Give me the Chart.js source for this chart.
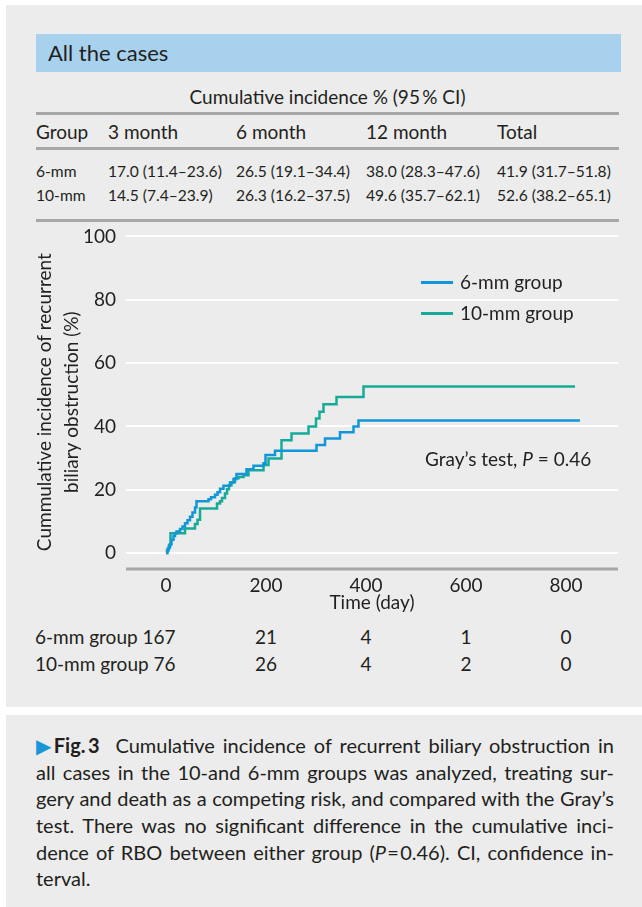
<!DOCTYPE html>
<html>
<head>
<meta charset="utf-8">
<script src="https://cdn.jsdelivr.net/npm/chart.js@4.4.0/dist/chart.umd.min.js"></script>
<style>
  html, body { margin: 0; padding: 0; background: #fff; }
  body { width: 642px; height: 907px; position: relative; overflow: hidden;
         font-family: Lato, "Open Sans", sans-serif; color: #231f20; }
  .panel { position: absolute; left: 6px; width: 636px; background: #ebeceb; }
  .abs { position: absolute; white-space: nowrap; }
  .rule { position: absolute; left: 36px; width: 583px; height: 3px; background: #a5a7a9; }
  .cap { position: absolute; left: 36px; width: 578px; font-size: 20px; line-height: 26px;
         text-align: justify; text-align-last: justify; white-space: nowrap; }
  #chartBox { position: absolute; left: 0; top: 215px; }
</style>
</head>
<body>
<div class="panel" style="top:5px;height:702px"></div>
<div class="panel" style="top:715px;height:192px"></div>
<div class="abs" style="left:36px;top:34px;width:585px;height:38px;background:#a8d1ee"></div>
<div class="abs" style="left:48px;top:38px;font-size:22px;line-height:30px">All the cases</div>
<div class="abs" style="left:36px;width:583px;top:85px;font-size:19px;line-height:24px;text-align:center">Cumulative incidence % (95&#8201;% CI)</div>
<div class="rule" style="top:112px"></div>
<div class="rule" style="top:147px"></div>
<div class="rule" style="top:219px"></div>
<div id="tbl"></div>

<div id="chartBox"><canvas id="canvas" width="642" height="407"></canvas></div>
<div id="legend"></div>
<div class="abs" style="left:425px;top:447px;font-size:19px;line-height:24px">Gray’s test, <i>P</i> = 0.46</div>
<div id="risk"></div>

<div class="cap" style="top:732px"><span style="color:#1a96d6">&#9654;</span><b>Fig.&#8201;3</b>&nbsp; Cumulative incidence of recurrent biliary obstruction in</div>
<div class="cap" style="top:759px">all cases in the 10-and 6-mm groups was analyzed, treating sur-</div>
<div class="cap" style="top:785px">gery and death as a competing risk, and compared with the Gray’s</div>
<div class="cap" style="top:812px">test. There was no significant difference in the cumulative inci-</div>
<div class="cap" style="top:839px">dence of RBO between either group (<i>P</i>&#8202;=&#8202;0.46). CI, confidence in-</div>
<div class="cap" style="top:865px;text-align-last:left">terval.</div>

<script>
// table above the chart
const tableCols = ['Group', '3 month', '6 month', '12 month', 'Total'];
const table6 = ['6-mm', '17.0 (11.4–23.6)', '26.5 (19.1–34.4)', '38.0 (28.3–47.6)', '41.9 (31.7–51.8)'];
const table10 = ['10-mm', '14.5 (7.4–23.9)', '26.3 (16.2–37.5)', '49.6 (35.7–62.1)', '52.6 (38.2–65.1)'];

// cumulative incidence steps (day, %)
const days6 = [0, 2, 5, 8, 11, 15, 18, 21, 28, 33, 38, 43, 48, 53, 58, 61, 85, 90, 98, 103, 108, 115, 128, 135, 141, 161, 175, 195, 199, 218, 301, 318, 348, 375, 385, 828];
const pct6 = [0, 0.8, 1.8, 2.8, 4.2, 5.4, 6.2, 6.8, 7.6, 8.4, 9.4, 10.4, 11.5, 12.8, 14.4, 16.4, 17.0, 17.6, 18.4, 19.2, 20.3, 21.3, 22.3, 23.4, 25.0, 26.5, 27.6, 28.4, 31.0, 32.3, 34.1, 36.2, 38.2, 40.0, 41.9, 41.9];
const days10 = [0, 3, 6, 9, 38, 58, 63, 68, 102, 108, 112, 118, 122, 126, 131, 138, 145, 155, 165, 195, 205, 231, 251, 285, 300, 307, 315, 341, 395, 818];
const pct10 = [0, 1.3, 2.6, 6.3, 7.8, 9.2, 10.5, 14.1, 15.7, 16.4, 17.4, 18.8, 20.2, 21.4, 22.4, 23.6, 24.0, 24.6, 26.2, 27.8, 29.9, 35.6, 37.8, 40.0, 42.5, 44.6, 47.0, 49.3, 52.6, 52.6];

const seriesNames = ['6-mm group', '10-mm group'];
const xTicks = [0, 200, 400, 600, 800];
const yTicks = [0, 20, 40, 60, 80, 100];

// number at risk
const riskTimes = [0, 200, 400, 600, 800];
const risk6 = [167, 21, 4, 1, 0];
const risk10 = [76, 26, 4, 2, 0];

const blue = '#1296da';
const green = '#17ab97';
const font = 'Lato, "Open Sans", sans-serif';

// build the top table
const tbl = document.getElementById('tbl');
const colX = [36, 108, 236, 366, 497];
function addRow(cells, top, size) {
    cells.forEach(function (txt, i) {
        const d = document.createElement('div');
        d.className = 'abs';
        d.style.left = colX[i] + 'px';
        d.style.top = top + 'px';
        d.style.fontSize = size + 'px';
        d.style.lineHeight = '24px';
        d.textContent = txt;
        tbl.appendChild(d);
    });
}
addRow(tableCols, 120, 19);
addRow(table6, 159, 15.6);
addRow(table10, 183, 15.6);

function toPoints(xs, ys) {
    return xs.map((x, i) => ({x: x, y: ys[i]}));
}

// grey axis line under the plot
const axisLine = {
    id: 'axisLine',
    afterDraw: function (chart) {
        const a = chart.chartArea;
        const c = chart.ctx;
        c.save();
        c.strokeStyle = '#a5a7a9';
        c.lineWidth = 3;
        c.beginPath();
        c.moveTo(a.left, a.bottom + 1);
        c.lineTo(a.right, a.bottom + 1);
        c.stroke();
        c.restore();
    }
};

const ctx = document.getElementById('canvas').getContext('2d');
const chart = new Chart(ctx, {
    type: 'line',
    data: {
        datasets: [{
            label: seriesNames[0],
            data: toPoints(days6, pct6),
            borderColor: blue,
            borderWidth: 2.5,
            stepped: true,
            pointRadius: 0,
            fill: false
        }, {
            label: seriesNames[1],
            data: toPoints(days10, pct10),
            borderColor: green,
            borderWidth: 2.5,
            stepped: true,
            pointRadius: 0,
            fill: false
        }]
    },
    plugins: [axisLine],
    options: {
        responsive: false,
        animation: false,
        devicePixelRatio: 1,
        layout: {padding: {top: 14, right: 24, left: 0, bottom: 0}},
        plugins: {legend: {display: false}, tooltip: {enabled: false}},
        scales: {
            x: {
                type: 'linear',
                min: -80,
                max: 904,
                afterBuildTicks: s => { s.ticks = xTicks.map(v => ({value: v})); },
                afterFit: s => { s.height = 54; },
                grid: {display: false, drawTicks: false},
                border: {display: false},
                ticks: {color: '#231f20', font: {family: font, size: 19}, padding: 6, maxRotation: 0, autoSkip: false},
                title: {display: true, text: 'Time (day)', color: '#231f20',
                        font: {family: font, size: 19, lineHeight: 1.2}, padding: {top: 0, bottom: 8}}
            },
            y: {
                min: -4.7,
                max: 100,
                afterBuildTicks: s => { s.ticks = yTicks.map(v => ({value: v})); },
                afterFit: s => { s.width = 126; },
                grid: {color: '#ffffff', lineWidth: 2, drawTicks: false},
                border: {display: false},
                ticks: {color: '#231f20', font: {family: font, size: 19}, padding: 10},
                title: {display: true, text: ['Cummulative incidence of recurrent', 'biliary obstruction (%)'],
                        color: '#231f20', font: {family: font, size: 19, lineHeight: 1.42},
                        padding: {top: 31, bottom: 0}}
            }
        }
    }
});

// legend inside the plot
const legend = document.getElementById('legend');
[[blue, 282], [green, 313]].forEach(function (it, i) {
    const ln = document.createElement('div');
    ln.className = 'abs';
    ln.style.left = '421px';
    ln.style.top = (it[1] - 1) + 'px';
    ln.style.width = '32px';
    ln.style.height = '2.5px';
    ln.style.background = it[0];
    legend.appendChild(ln);
    const tx = document.createElement('div');
    tx.className = 'abs';
    tx.style.left = '460px';
    tx.style.top = (it[1] - 12) + 'px';
    tx.style.fontSize = '19px';
    tx.style.lineHeight = '24px';
    tx.textContent = seriesNames[i];
    legend.appendChild(tx);
});

// number-at-risk rows, columns taken from the x scale
const risk = document.getElementById('risk');
const xs = chart.scales.x;
[[seriesNames[0], risk6, 625], [seriesNames[1], risk10, 652]].forEach(function (row) {
    const lab = document.createElement('div');
    lab.className = 'abs';
    lab.style.left = '35px';
    lab.style.top = row[2] + 'px';
    lab.style.fontSize = '19px';
    lab.style.lineHeight = '24px';
    lab.textContent = row[0] + ' ' + row[1][0];
    risk.appendChild(lab);
    for (let i = 1; i < riskTimes.length; i++) {
        const d = document.createElement('div');
        d.className = 'abs';
        d.style.left = (xs.getPixelForValue(riskTimes[i]) - 40) + 'px';
        d.style.width = '80px';
        d.style.textAlign = 'center';
        d.style.top = row[2] + 'px';
        d.style.fontSize = '19px';
        d.style.lineHeight = '24px';
        d.textContent = row[1][i];
        risk.appendChild(d);
    }
});
</script>
</body>
</html>
